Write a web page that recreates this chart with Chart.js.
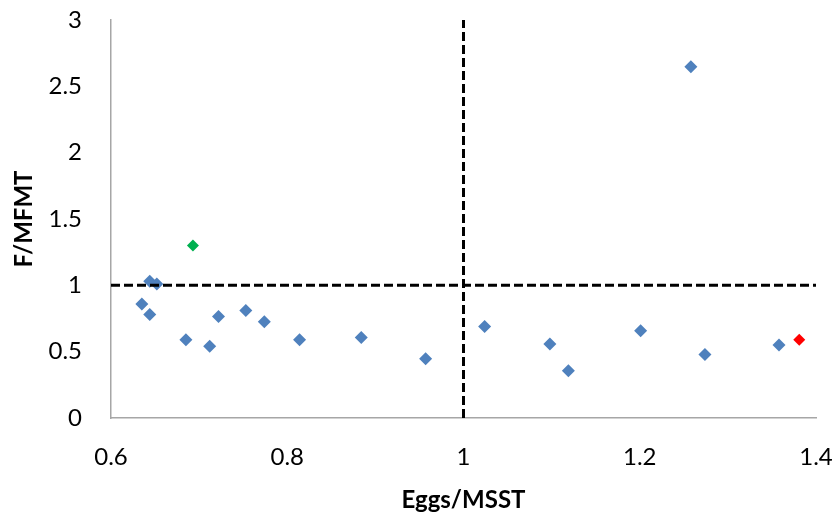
<!DOCTYPE html>
<html>
<head>
<meta charset="utf-8">
<script src="https://cdn.jsdelivr.net/npm/chart.js@4"></script>
<style>
html,body{margin:0;padding:0;background:#fff;}
canvas{display:block;}
</style>
</head>
<body>
<canvas id="c" width="838" height="512"></canvas>
<script>
// Data
const blueX = [0.635, 0.644, 0.644, 0.652, 0.685, 0.712, 0.722, 0.753, 0.774, 0.814, 0.884, 0.957, 1.024, 1.098, 1.119, 1.201, 1.258, 1.274, 1.358];
const blueY = [0.86, 1.03, 0.78, 1.01, 0.59, 0.54, 0.765, 0.81, 0.725, 0.59, 0.607, 0.447, 0.69, 0.557, 0.356, 0.657, 2.647, 0.479, 0.55];
const greenX = [0.693];
const greenY = [1.30];
const redX = [1.381];
const redY = [0.59];
// Reference lines
const refVX = [1, 1];
const refVY = [0, 3];
const refHX = [0.6, 1.4];
const refHY = [1, 1];
// Axes
const xTicks = [0.6, 0.8, 1, 1.2, 1.4];
const yTicks = [0, 0.5, 1, 1.5, 2, 2.5, 3];
const xTitle = 'Eggs/MSST';
const yTitle = 'F/MFMT';

const pts = (xs, ys) => xs.map((x, i) => ({x: x, y: ys[i]}));
const FONT = 'Lato, "Open Sans", sans-serif';

new Chart(document.getElementById('c'), {
  type: 'scatter',
  data: {
    datasets: [
      {data: pts(refVX, refVY), showLine: true, borderColor: '#000', borderWidth: 3, borderDash: [9, 4], pointRadius: 0, order: 0},
      {data: pts(refHX, refHY), showLine: true, borderColor: '#000', borderWidth: 3, borderDash: [9, 4], pointRadius: 0, order: 0},
      {data: pts(blueX, blueY), pointStyle: 'rectRot', pointRadius: 6.5, backgroundColor: '#4F81BD', borderColor: '#4F81BD', borderWidth: 0, order: 1},
      {data: pts(greenX, greenY), pointStyle: 'rectRot', pointRadius: 6, backgroundColor: '#00B050', borderColor: '#00B050', borderWidth: 0, order: 1},
      {data: pts(redX, redY), pointStyle: 'rectRot', pointRadius: 6, backgroundColor: '#FF0000', borderColor: '#FF0000', borderWidth: 0, order: 1}
    ]
  },
  options: {
    responsive: false,
    animation: false,
    layout: {padding: {top: 20, right: 22, bottom: 0, left: 0}},
    plugins: {legend: {display: false}, tooltip: {enabled: false}},
    scales: {
      x: {
        type: 'linear', min: 0.6, max: 1.4,
        afterBuildTicks: s => { s.ticks = xTicks.map(v => ({value: v})); },
        afterFit: s => { s.height = 94; s.paddingLeft = 0; s.paddingRight = 0; s.paddingTop = 0; s.paddingBottom = 0; },
        grid: {display: false, drawTicks: false},
        border: {display: true, color: '#A6A6A6', width: 1.5},
        ticks: {color: '#000', padding: 25, font: {family: FONT, size: 24}, callback: v => String(v)},
        title: {display: true, text: xTitle, color: '#000', font: {family: FONT, size: 24, weight: 'bold', lineHeight: 0.95}, padding: {top: 0, bottom: 0}}
      },
      y: {
        type: 'linear', min: 0, max: 3,
        afterBuildTicks: s => { s.ticks = yTicks.map(v => ({value: v})); },
        afterFit: s => { s.width = 111; s.paddingLeft = 0; s.paddingRight = 0; s.paddingTop = 0; s.paddingBottom = 0; },
        grid: {display: false, drawTicks: false},
        border: {display: true, color: '#A6A6A6', width: 1.5},
        ticks: {color: '#000', padding: 29, font: {family: FONT, size: 24}, callback: v => String(v)},
        title: {display: true, text: yTitle, color: '#000', font: {family: FONT, size: 24, weight: 'bold'}, padding: {top: 10, bottom: 0}}
      }
    }
  }
});
</script>
</body>
</html>
